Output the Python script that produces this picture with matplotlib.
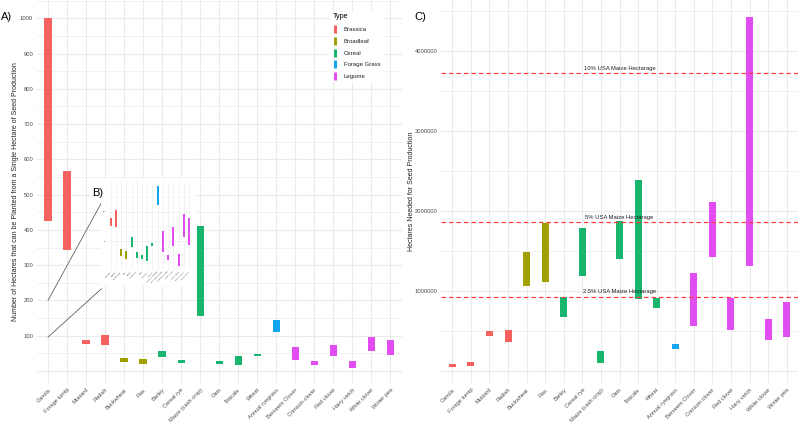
import matplotlib
matplotlib.use("Agg")
import matplotlib.pyplot as plt
from matplotlib.lines import Line2D
from matplotlib.patches import Rectangle
import numpy as np

plt.rcParams['font.family'] = ['Liberation Sans', 'DejaVu Sans']

# datos
cultivos = ['Canola', 'Forage turnip', 'Mustard', 'Radish', 'Buckwheat', 'Flax',
            'Barley', 'Cereal rye', 'Maize (cash crop)', 'Oats', 'Triticale', 'Wheat',
            'Annual ryegrass', 'Berseem Clover', 'Crimson clover', 'Red clover',
            'Hairy vetch', 'White clover', 'Winter pea']
tipos = ['Brassica', 'Brassica', 'Brassica', 'Brassica', 'Broadleaf', 'Broadleaf',
         'Cereal', 'Cereal', 'Cereal', 'Cereal', 'Cereal', 'Cereal',
         'Forage Grass', 'Legume', 'Legume', 'Legume', 'Legume', 'Legume', 'Legume']

# hectareas sembradas con 1 ha de produccion de semilla
ha_min = [424, 342, 76, 74, 26, 21, 40, 22, 155, 21, 17, 42, 111, 32, 18, 42, 9, 57, 44]
ha_max = [1000, 567, 89, 103, 37, 34, 57, 32, 411, 27, 42, 48, 144, 67, 27, 74, 29, 96, 89]

# hectareas necesarias para produccion de semilla
nec_min = [50000, 67000, 433000, 367000, 1067000, 1108000, 675000, 1192000, 96000,
           1396000, 904000, 792000, 271000, 567000, 1429000, 512000, 1312000, 392000, 429000]
nec_max = [88000, 112000, 500000, 512000, 1487000, 1846000, 929000, 1783000, 246000,
           1875000, 2387000, 908000, 342000, 1229000, 2112000, 917000, 4417000, 654000, 858000]

# cultivos que no entran en el recuadro B
fuera_inset = ['Canola', 'Forage turnip', 'Maize (cash crop)']

maiz_usa = 37160000
porcentajes = [0.10, 0.05, 0.025]
etiquetas_pct = ['10% USA Maize Hectarage', '5% USA Maize Hectarage', '2.5% USA Maize Hectarage']

colores = {
    'Brassica': '#F4615F',
    'Broadleaf': '#A0A000',
    'Cereal': '#17B56E',
    'Forage Grass': '#12A6F0',
    'Legume': '#E24DF1',
}

W, H = 798, 424
GRIS = '#4D4D4D'
GRID = '#EBEBEB'


def caja(l, t, r, b):
    return [l / W, 1 - b / H, (r - l) / W, (b - t) / H]


def estilo(ax, fs_tick, lw_major=0.8, lw_minor=0.5):
    for s in ax.spines.values():
        s.set_visible(False)
    ax.tick_params(axis='both', which='both', length=0, labelsize=fs_tick, colors=GRIS)
    ax.grid(True, which='major', color=GRID, linewidth=lw_major)
    ax.grid(True, which='minor', axis='y', color=GRID, linewidth=lw_minor)
    ax.set_axisbelow(True)


fig = plt.figure(figsize=(W / 100, H / 100), dpi=100)
x = np.arange(len(cultivos))
cols = [colores[t] for t in tipos]

# ---- Grafico A ----
ax_a = fig.add_axes(caja(36.6, 0, 401.7, 383))
ax_a.bar(x, np.array(ha_max) - np.array(ha_min), bottom=ha_min, width=0.38,
         color=cols, linewidth=0)
ax_a.set_xlim(-0.6, len(cultivos) - 0.4)
ax_a.set_ylim(-34.1, 1051.8)
ax_a.set_yticks(np.arange(0, 1001, 100))
ax_a.set_yticklabels([''] + [str(v) for v in range(100, 1001, 100)])
ax_a.set_yticks(np.arange(50, 1051, 100), minor=True)
ax_a.set_xticks(x)
ax_a.set_xticklabels(cultivos, rotation=45, ha='right', va='top', rotation_mode='anchor')
estilo(ax_a, 4.2)
ax_a.tick_params(axis='x', pad=3, labelsize=4.1)
ax_a.tick_params(axis='y', pad=2.5)
ax_a.set_ylabel('Number of Hectares that can be Planted from a Single Hectare of Seed Production',
                fontsize=5, color='#222222')
ax_a.yaxis.label.set_va('center')
ax_a.yaxis.set_label_coords(-0.058, 0.5)

# lineas hacia el recuadro B
ax_a.plot([0, 2.81], [200, 477], color='#444444', lw=0.5)
ax_a.plot([0, 2.81], [96, 233], color='#444444', lw=0.5)

# ---- Recuadro B ----
fig.patches.append(Rectangle((101 / W, 1 - 286 / H), 95 / W, 108 / H,
                             transform=fig.transFigure, facecolor='white',
                             edgecolor='none', zorder=2))
idx_b = [i for i, c in enumerate(cultivos) if c not in fuera_inset]
xb = np.arange(len(idx_b))
ax_b = fig.add_axes(caja(107.6, 181.6, 192.1, 269.7), zorder=3)
ax_b.set_facecolor('white')
ax_b.bar(xb, [ha_max[i] - ha_min[i] for i in idx_b], bottom=[ha_min[i] for i in idx_b],
         width=0.38, color=[cols[i] for i in idx_b], linewidth=0)
ax_b.set_xlim(-0.6, len(idx_b) - 0.4)
ax_b.set_ylim(2.25, 150.75)
ax_b.set_yticks([50, 100])
ax_b.set_yticks([25, 75, 125], minor=True)
ax_b.set_xticks(xb)
ax_b.set_xticklabels([cultivos[i] for i in idx_b], rotation=45, ha='right', va='top',
                     rotation_mode='anchor')
estilo(ax_b, 1.6, lw_major=0.4, lw_minor=0.25)
ax_b.tick_params(axis='both', pad=1)

# ---- Grafico C ----
ax_c = fig.add_axes(caja(441.2, 0, 797.8, 383))
ax_c.bar(x, np.array(nec_max) - np.array(nec_min), bottom=nec_min, width=0.38,
         color=cols, linewidth=0)
ax_c.set_xlim(-0.6, len(cultivos) - 0.4)
ax_c.set_ylim(-148600, 4633000)
ax_c.set_yticks(np.arange(0, 4000001, 1000000))
ax_c.set_yticklabels([''] + [str(v) for v in range(1000000, 4000001, 1000000)])
ax_c.set_yticks(np.arange(500000, 4600001, 1000000), minor=True)
ax_c.set_xticks(x)
ax_c.set_xticklabels(cultivos, rotation=45, ha='right', va='top', rotation_mode='anchor')
estilo(ax_c, 4.2)
ax_c.tick_params(axis='x', pad=3, labelsize=4.1)
ax_c.tick_params(axis='y', pad=2.5)
ax_c.set_ylabel('Hectares Needed for Seed Production', fontsize=5, color='#222222')
ax_c.yaxis.label.set_va('center')
ax_c.yaxis.set_label_coords(-0.0827, 0.5)

for p, etiqueta in zip(porcentajes, etiquetas_pct):
    v = maiz_usa * p
    ax_c.axhline(v, color='#FF3B3B', linestyle=(0, (3.5, 2.5)), linewidth=0.9)
    ax_c.annotate(etiqueta, (9, v), xytext=(0, 1.6), textcoords='offset points',
                  ha='center', va='bottom', fontsize=4.2, color='#222222')

# leyenda
handles = [Line2D([], [], color=colores[t], marker='|', linestyle='None',
                  markersize=5.8, markeredgewidth=2.2) for t in colores]
leg = fig.legend(handles, list(colores), title='Type', loc='upper left',
                 bbox_to_anchor=(327 / W, 1 - 8 / H), fontsize=4.3, title_fontsize=5.2,
                 frameon=True, facecolor='white', edgecolor='none', framealpha=1,
                 handlelength=1.0, handletextpad=0.9, labelspacing=1.1,
                 borderpad=0.4, alignment='left')
for t in leg.get_texts():
    t.set_color('#222222')
leg.set_zorder(6)

# letras de los paneles
fig.text(1 / W, 1 - 17 / H, 'A)', fontsize=8, va='center', ha='left')
fig.text(92 / W, 1 - 193 / H, 'B)', fontsize=8, va='center', ha='left')
fig.text(414 / W, 1 - 17 / H, 'C)', fontsize=8, va='center', ha='left')

plt.savefig('out.png', dpi=100)
